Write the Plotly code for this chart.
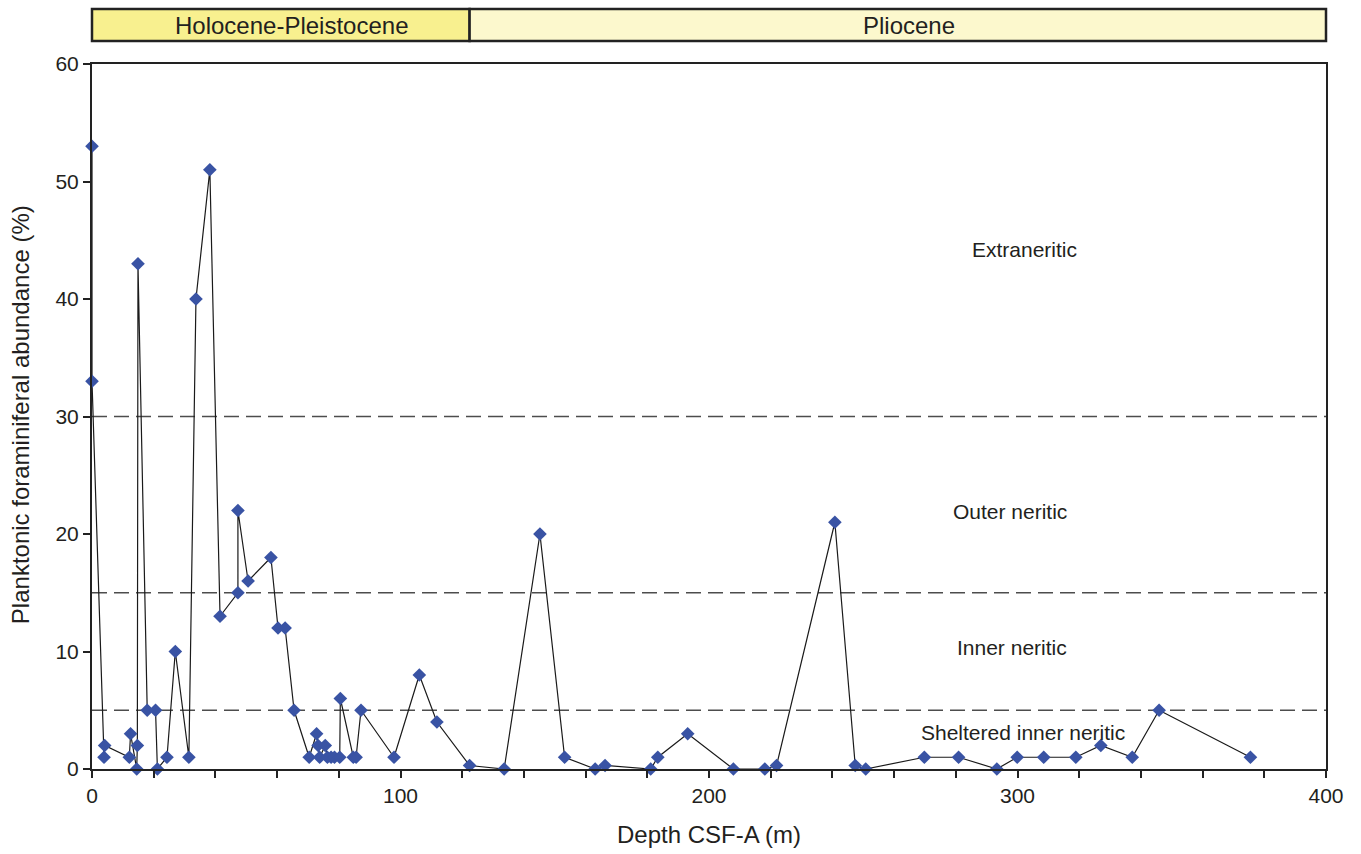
import plotly.graph_objects as go

# Sample depths (m, CSF-A) and planktonic foraminiferal abundance (%)
depth = [0.0, 0.0, 3.9, 4.1, 12.1, 12.5, 14.5, 14.7, 14.9, 17.9, 20.6, 21.2, 24.3,
         27.0, 31.4, 33.7, 38.2, 41.5, 47.3, 47.3, 50.6, 58.0, 60.3, 62.6, 65.5,
         70.4, 72.8, 73.3, 73.8, 75.6, 76.3, 77.5, 78.6, 80.3, 80.5, 84.7, 85.6,
         87.2, 97.9, 106.1, 111.8, 122.4, 133.6, 145.2, 153.2, 163.1, 166.3,
         181.1, 183.4, 193.1, 207.9, 218.1, 221.9, 240.8, 247.4, 250.8, 269.8,
         280.9, 293.3, 299.9, 308.5, 318.9, 327.0, 337.2, 345.9, 375.5]
abundance = [53, 33, 1, 2, 1, 3, 0, 2, 43, 5, 5, 0, 1,
             10, 1, 40, 51, 13, 15, 22, 16, 18, 12, 12, 5,
             1, 3, 2, 1, 2, 1, 1, 1, 1, 6, 1, 1,
             5, 1, 8, 4, 0.3, 0, 20, 1, 0, 0.3,
             0, 1, 3, 0, 0, 0.3, 21, 0.3, 0, 1,
             1, 0, 1, 1, 1, 2, 1, 5, 1]

# Paleoenvironment thresholds and zone labels
thresholds = [30, 15, 5]
zone_names = ["Extraneritic", "Outer neritic", "Inner neritic", "Sheltered inner neritic"]
zone_x = [302.4, 297.6, 298.2, 301.8]
zone_y = [44.2, 21.9, 10.3, 3.1]

# Epoch intervals along the depth axis
epochs = ["Holocene-Pleistocene", "Pliocene"]
epoch_top = [0, 122.4]
epoch_base = [122.4, 400]
epoch_fill = ["#F8F08F", "#FCF8CD"]

X_MAX, Y_MAX = 400, 60
FONT = "Liberation Sans, Arial, Helvetica, sans-serif"
INK = "#231F20"

fig = go.Figure()

fig.add_trace(go.Scatter(
    x=depth, y=abundance, mode="lines+markers",
    line=dict(color="#1a1a1a", width=1.2),
    marker=dict(symbol="diamond", size=10.5, color="#3953A4",
                line=dict(width=0)),
    cliponaxis=False, showlegend=False, hoverinfo="x+y",
))

for t in thresholds:
    fig.add_shape(type="line", xref="x", yref="y", x0=0, x1=X_MAX, y0=t, y1=t,
                  line=dict(color="#4d4d4d", width=1.6, dash="15px,7px"),
                  layer="below")

for name, zx, zy in zip(zone_names, zone_x, zone_y):
    fig.add_annotation(x=zx, y=zy, xref="x", yref="y", text=name, showarrow=False,
                       xanchor="center", yanchor="middle",
                       font=dict(family=FONT, size=21, color=INK))

# Epoch bar above the plot
bar_y0, bar_y1 = 1.0326, 1.078
for name, top, base, fill in zip(epochs, epoch_top, epoch_base, epoch_fill):
    fig.add_shape(type="rect", xref="paper", yref="paper",
                  x0=top / X_MAX, x1=base / X_MAX, y0=bar_y0, y1=bar_y1,
                  fillcolor=fill, line=dict(color="#222222", width=2.5))
    fig.add_annotation(x=(top + base) / 2 / X_MAX, y=(bar_y0 + bar_y1) / 2,
                       xref="paper", yref="paper", text=name, showarrow=False,
                       xanchor="center", yanchor="middle", xshift=11,
                       font=dict(family=FONT, size=24, color=INK))

# Axis titles
fig.add_annotation(x=0.5, y=-0.0936, xref="paper", yref="paper",
                   text="Depth CSF-A (m)", showarrow=False,
                   xanchor="center", yanchor="middle",
                   font=dict(family=FONT, size=24, color=INK))
fig.add_annotation(x=-0.0583, y=0.502, xref="paper", yref="paper",
                   text="Planktonic foraminiferal abundance (%)", showarrow=False,
                   xanchor="center", yanchor="middle",
                   textangle=-90, font=dict(family=FONT, size=24, color=INK))

fig.update_xaxes(range=[0, X_MAX], dtick=100, tick0=0, ticks="outside", ticklen=7,
                 tickwidth=2, tickcolor="#222", showline=True, linewidth=2,
                 linecolor="#222", mirror=True, showgrid=False, zeroline=False,
                 minor=dict(dtick=20, ticks="outside", ticklen=7, tickwidth=2,
                            tickcolor="#222", showgrid=False),
                 tickfont=dict(family=FONT, size=21, color=INK))
fig.update_yaxes(range=[0, Y_MAX], dtick=10, tick0=0, ticks="outside", ticklen=7,
                 tickwidth=2, tickcolor="#222", showline=True, linewidth=2,
                 linecolor="#222", mirror=True, showgrid=False, zeroline=False,
                 tickfont=dict(family=FONT, size=21, color=INK))

fig.update_layout(
    width=1361, height=854,
    margin=dict(l=92, r=35, t=64, b=85),
    paper_bgcolor="white", plot_bgcolor="white",
    font=dict(family=FONT, color=INK),
)

fig.write_html("out.html")
